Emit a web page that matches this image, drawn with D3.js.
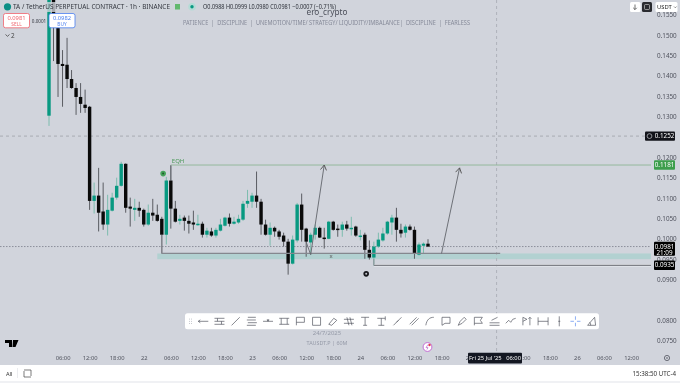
<!DOCTYPE html>
<html>
<head>
<meta charset="utf-8">
<script src="https://cdn.jsdelivr.net/npm/d3@7"></script>
<style>
html, body { margin: 0; padding: 0; background: #d1d4dc; overflow: hidden; }
svg { display: block; font-family: "Noto Sans", sans-serif; filter: blur(0.3px); }
.tick text { font-family: "Noto Sans", sans-serif; }
</style>
</head>
<body>
<script>
// one candle per hour, first one is Jul 21 03:00
var opens = [.1302,.1600,.1517,.1429,.1427,.1392,.1370,.1348,.1329,
  .1324,.1093,.1106,.1067,.1035,.1069,.1101,.1130,.1184,.1079,.1071,.1076,.1071,.1035,.1064,.1059,.1049,.1010,.1143,.1074,
  .1044,.1052,.1044,.1040,.1035,.1037,.1010,.1018,.1008,.1020,.1032,.1052,.1037,.1040,.1047,.1086,.1091,.1106,.1091,.1035,
  .1010,.1027,.1018,.1008,.0993,.0939,.0996,.1084,.1025,.0991,.1010,.1027,.1003,.1000,.1042,.1025,.1022,.1035,.1025,.1030,
  .1005,.1010,.0973,.0954,.0981,.0996,.1013,.1040,.1052,.1022,.1015,.1030,.1022,.0961,.0983,.0988];
var closes = [.1600,.1552,.1429,.1424,.1392,.1370,.1348,.1331,.1321,
  .1093,.1106,.1064,.1035,.1071,.1101,.1130,.1184,.1076,.1074,.1076,.1069,.1035,.1064,.1057,.1044,.1010,.1143,.1074,.1042,
  .1049,.1044,.1037,.1035,.1037,.1010,.1020,.1008,.1022,.1035,.1052,.1037,.1042,.1049,.1086,.1093,.1106,.1091,.1035,.1010,
  .1027,.1018,.1005,.0993,.0939,.0998,.1084,.1022,.0993,.1010,.1027,.1003,.1000,.1042,.1022,.1022,.1035,.1025,.1027,.1008,
  .1008,.0973,.0954,.0981,.0998,.1013,.1042,.1052,.1022,.1013,.1030,.1022,.0964,.0986,.0988,.0981];
var highs = [.1620,.1620,.1552,.1463,.1493,.1414,.1382,.1382,.1366,
  .1326,.1138,.1174,.1138,.1108,.1113,.1150,.1189,.1185,.1101,.1098,.1091,.1074,.1084,.1098,.1084,.1054,.1152,.1179,.1093,
  .1059,.1057,.1057,.1069,.1059,.1042,.1027,.1027,.1027,.1049,.1054,.1062,.1054,.1059,.1093,.1120,.1113,.1165,.1098,.1047,
  .1040,.1030,.1022,.1015,.1000,.1008,.1088,.1111,.1027,.1015,.1035,.1030,.1027,.1044,.1044,.1035,.1042,.1044,.1054,.1032,
  .1022,.1015,.0996,.0993,.1015,.1027,.1044,.1059,.1076,.1037,.1035,.1035,.1030,.0991,.0991,.0999];
var lows = [.1277,.1436,.1348,.1324,.1370,.1368,.1304,.1309,.1309,
  .1071,.1062,.1018,.1022,.1008,.1067,.1096,.1128,.1064,.1030,.1044,.1054,.1030,.1032,.1044,.1042,.0964,.0986,.1025,.1040,
  .1035,.1020,.1013,.1022,.1032,.1003,.1003,.1005,.1003,.1018,.1030,.1030,.1035,.1037,.1044,.1076,.1076,.1076,.1010,.1008,
  .0983,.1005,.0998,.0981,.0912,.0937,.0991,.0993,.0956,.0961,.0998,.1002,.0976,.0999,.1020,.1005,.1005,.1020,.1008,.1005,
  .0996,.0951,.0949,.0934,.0978,.0993,.1010,.1010,.0993,.1003,.1003,.1020,.0951,.0959,.0964,.0980];

var priceTicks = [.155,.15,.145,.14,.135,.13,.12,.115,.11,.105,.10,.095,.09,.08,.075];
// Jul 25 06:00 is left out, the crosshair tag sits right over it
var timeTickIndex = [3,9,15,21,27,33,39,45,51,57,63,69,75,81,87,93,105,111,117,123,129];
var timeTickLabels = ["06:00","12:00","18:00","22","06:00","12:00","18:00","23","06:00","12:00","18:00","24","06:00","12:00","18:00","25","12:00","18:00","26","06:00","12:00"];

var lastPrice = 0.0981, eqhPrice = 0.1181, alertPrice = 0.1252, lowLevel = 0.0935;
var zoneTop = 0.0964, zoneBottom = 0.0950;
var crosshairIndex = 99.2;
var arrowA = [[57,.0992],[58,.0961],[61,.1181]];
var arrowB = [[87,.0964],[91,.1174]];

var W = 680, H = 383, plotR = 651, plotB = 365;
var x = d3.scaleLinear().domain([0, 84]).range([49, 428]);
var y = d3.scaleLinear().domain([.15, .075]).range([35, 340.7]);
var GREEN = "#089981", WICK_G = "#7cbcae", BLACK = "#0a0a0a", WICK_B = "#5a5c62";

var svg = d3.select("body").append("svg").attr("width", W).attr("height", H);
svg.append("rect").attr("width", W).attr("height", H).attr("fill", "#d1d4dc");

var defs = svg.append("defs");
defs.append("clipPath").attr("id", "plot").append("rect").attr("width", plotR).attr("height", plotB);
var mk = defs.append("marker").attr("id", "head").attr("markerWidth", 8).attr("markerHeight", 8)
    .attr("refX", 6).attr("refY", 3.5).attr("orient", "auto").attr("markerUnits", "userSpaceOnUse");
mk.append("path").attr("d", "M1,0.5L6,3.5L1,6.5").attr("fill", "none").attr("stroke", "#555").attr("stroke-width", 0.9);

var plot = svg.append("g").attr("clip-path", "url(#plot)");

// zone and levels sit under the candles
plot.append("rect").attr("x", x(24)).attr("y", y(zoneTop)).attr("width", plotR - x(24))
    .attr("height", y(zoneBottom) - y(zoneTop)).attr("fill", "#b2d1d1");

function hLine(p, x0, x1, col, w, dash) {
    plot.append("line").attr("x1", x0).attr("x2", x1).attr("y1", y(p)).attr("y2", y(p))
        .attr("stroke", col).attr("stroke-width", w).attr("stroke-dasharray", dash || null);
}
hLine(alertPrice, 0, plotR, "#9ea1aa", 0.8, "3 3");
hLine(lastPrice, 0, plotR, "#7c7f8b", 0.8, "1.5 1.5");
plot.append("line").attr("x1", x(crosshairIndex)).attr("x2", x(crosshairIndex)).attr("y1", 0).attr("y2", plotB)
    .attr("stroke", "#aeb1ba").attr("stroke-width", 1).attr("stroke-dasharray", "3 3");

// candles
var idx = d3.range(opens.length);
plot.selectAll("line.wick").data(idx).enter().append("line").attr("class", "wick")
    .attr("x1", i => x(i)).attr("x2", i => x(i))
    .attr("y1", i => y(highs[i])).attr("y2", i => y(lows[i]))
    .attr("stroke", i => closes[i] >= opens[i] ? WICK_G : WICK_B).attr("stroke-width", 1);
plot.selectAll("rect.body").data(idx).enter().append("rect").attr("class", "body")
    .attr("x", i => x(i) - 1.7).attr("width", 3.4)
    .attr("y", i => y(Math.max(opens[i], closes[i])))
    .attr("height", i => Math.max(1.5, Math.abs(y(opens[i]) - y(closes[i]))))
    .attr("fill", i => closes[i] >= opens[i] ? GREEN : BLACK);

// drawings
hLine(eqhPrice, x(27), plotR, "#8db495", 0.9);
plot.append("line").attr("x1", x(27)).attr("x2", x(27)).attr("y1", y(eqhPrice)).attr("y2", y(.1143))
    .attr("stroke", "#6d7078").attr("stroke-width", 1);
plot.append("text").attr("x", x(27) + 1).attr("y", y(eqhPrice) - 2).attr("font-size", 6).attr("fill", "#4d9a5b").text("EQH");

hLine(zoneTop, x(25), x(100), "#85888f", 1.2);
plot.append("line").attr("x1", x(25)).attr("x2", x(25)).attr("y1", y(.1010)).attr("y2", y(zoneTop))
    .attr("stroke", "#85888f").attr("stroke-width", 1);
plot.append("text").attr("x", x(62.5)).attr("y", y(zoneBottom) - 1).attr("text-anchor", "middle")
    .attr("font-size", 6).attr("fill", "#555").text("x");

hLine(lowLevel, x(72), plotR, "#eef0f4", 2.2);
hLine(lowLevel, x(72), plotR, "#5f6269", 1);
plot.append("line").attr("x1", x(72)).attr("x2", x(72)).attr("y1", y(zoneBottom)).attr("y2", y(lowLevel))
    .attr("stroke", "#8a8d94").attr("stroke-width", 1);

var arrowLine = d3.line().x(d => x(d[0])).y(d => y(d[1]));
[arrowA, arrowB].forEach(a => {
    plot.append("path").attr("d", arrowLine(a)).attr("fill", "none").attr("stroke", "#62656c")
        .attr("stroke-width", 0.9).attr("marker-end", "url(#head)");
});

plot.append("circle").attr("cx", x(25.3)).attr("cy", y(.1160)).attr("r", 2.8).attr("fill", "#46a35a");
plot.append("circle").attr("cx", x(25.3)).attr("cy", y(.1160)).attr("r", 1).attr("fill", "#1f5c2c");
plot.append("circle").attr("cx", x(70.3)).attr("cy", y(.0914)).attr("r", 2.8).attr("fill", "#16171b");
plot.append("circle").attr("cx", x(70.3)).attr("cy", y(.0914)).attr("r", 1).attr("fill", "#c4c6cc");

// axes
var yAxis = d3.axisRight(y).tickValues(priceTicks).tickFormat(d3.format(".4f")).tickSize(0).tickPadding(0);
var gy = svg.append("g").attr("transform", "translate(657,0)").call(yAxis);
gy.select(".domain").remove();
gy.selectAll("text").attr("font-size", 6.3).attr("fill", "#50535e");

var xAxis = d3.axisBottom(x).tickValues(timeTickIndex).tickFormat((d, i) => timeTickLabels[i]).tickSize(0).tickPadding(0);
var gx = svg.append("g").attr("transform", "translate(0,355.5)").call(xAxis);
gx.select(".domain").remove();
gx.selectAll("text").attr("font-size", 5.8).attr("fill", "#50535e");

// price tags on the axis
function tag(p, txt, col, x0, h) {
    var yy = y(p);
    svg.append("rect").attr("x", x0).attr("y", yy - 4.7).attr("width", 675 - x0).attr("height", h || 9.4)
        .attr("rx", 1).attr("fill", col);
    svg.append("text").attr("x", 664.5).attr("y", yy + 2.2).attr("text-anchor", "middle")
        .attr("font-size", 6.3).attr("fill", "#fff").text(txt);
}
tag(alertPrice, "0.1252", "#12131a", 645);
tag(eqhPrice, "0.1181", "#3d9e4c", 654);
tag(lastPrice, "0.0981", "#000", 654, 14);
svg.append("text").attr("x", 664.5).attr("y", y(lastPrice) + 8.6).attr("text-anchor", "middle")
    .attr("font-size", 6.3).attr("fill", "#fff").text("21:09");
tag(lowLevel, "0.0935", "#000", 654);
svg.append("circle").attr("cx", 649.5).attr("cy", y(alertPrice)).attr("r", 2.4).attr("fill", "none").attr("stroke", "#c8cad0").attr("stroke-width", 0.7);

// crosshair date tag
svg.append("rect").attr("x", 468).attr("y", 352.7).attr("width", 54).attr("height", 10.8).attr("rx", 1).attr("fill", "#131722");
svg.append("text").attr("x", 495).attr("y", 360.2).attr("text-anchor", "middle").attr("font-size", 5.8)
    .attr("fill", "#fff").attr("xml:space", "preserve").text("Fri 25 Jul '25   06:00");

// legend / header
function txt(xp, yp, s, size, col, anchor, len) {
    var t = svg.append("text").attr("x", xp).attr("y", yp).attr("font-size", size).attr("fill", col)
        .attr("text-anchor", anchor || "start").text(s);
    if (len) t.attr("textLength", len).attr("lengthAdjust", "spacingAndGlyphs");
    return t;
}
// legend has a see-through backing, candles fade behind it
svg.append("rect").attr("x", 2).attr("y", 2).attr("width", 336).attr("height", 10).attr("fill", "#d1d4dc").attr("opacity", 0.8);
svg.append("circle").attr("cx", 7.5).attr("cy", 6.8).attr("r", 3.6).attr("fill", "#0c8f86");
txt(13, 9.4, "TA / TetherUS PERPETUAL CONTRACT · 1h · BINANCE", 7.2, "#33363f", "start", 157);
svg.append("rect").attr("x", 175).attr("y", 4).attr("width", 5).attr("height", 5.5).attr("fill", "#63b96f");
svg.append("circle").attr("cx", 192).attr("cy", 6.8).attr("r", 3.8).attr("fill", "#b4dcd6");
svg.append("circle").attr("cx", 192).attr("cy", 6.8).attr("r", 1.7).attr("fill", "#089981");
txt(203, 9.4, "O0.0988 H0.0999 L0.0980 C0.0981 −0.0007 (−0.71%)", 6.2, "#2c2f38", "start", 133);
txt(306.5, 15, "ero_crypto", 8.2, "#4c4f5a", "start", 41);
txt(183, 25.3, "PATIENCE  |  DISCIPLINE  |  UNEMOTION/TIME/ STRATEGY/ LIQUIDITY/IMBALANCE|  DISCIPLINE  |  FEARLESS", 6.2, "#868a99", "start", 287).attr("xml:space", "preserve");

function tradeBtn(x0, w, col, price, label) {
    svg.append("rect").attr("x", x0).attr("y", 13.5).attr("width", w).attr("height", 14.3).attr("rx", 2)
        .attr("fill", "#fff").attr("stroke", col).attr("stroke-width", 0.8);
    txt(x0 + w / 2, 20.4, price, 5.8, col, "middle");
    txt(x0 + w / 2, 26.4, label, 4.8, col, "middle");
}
tradeBtn(3.5, 26, "#f0626c", "0.0981", "SELL");
tradeBtn(49, 26, "#4a7ff0", "0.0982", "BUY");
txt(39, 23, "0.0001", 4.6, "#33363f", "middle");
svg.append("path").attr("d", "M5.5,34.5L7.5,36.3L9.5,34.5").attr("fill", "none").attr("stroke", "#444").attr("stroke-width", 0.8);
txt(11, 38, "2", 6.4, "#444");

// top right buttons
svg.append("rect").attr("x", 630).attr("y", 2).attr("width", 10.5).attr("height", 10).attr("rx", 1.5).attr("fill", "#fff");
svg.append("path").attr("d", "M635,4.5V9.5M633.2,7.8L635,9.6L636.8,7.8").attr("fill", "none").attr("stroke", "#333").attr("stroke-width", 0.7);
svg.append("rect").attr("x", 642).attr("y", 2).attr("width", 10).attr("height", 10).attr("rx", 1.5).attr("fill", "#2a2b30");
svg.append("rect").attr("x", 644.5).attr("y", 4.5).attr("width", 5).attr("height", 5).attr("rx", 1).attr("fill", "none").attr("stroke", "#ddd").attr("stroke-width", 0.6);
svg.append("rect").attr("x", 655.5).attr("y", 2).attr("width", 22).attr("height", 10).attr("rx", 1.5).attr("fill", "#fff");
txt(657, 9.3, "USDT", 5.8, "#222");
svg.append("path").attr("d", "M674,6.5L675.3,7.8L676.6,6.5").attr("fill", "none").attr("stroke", "#444").attr("stroke-width", 0.6);

// watermark
txt(327, 335.3, "24/7/2025", 6, "#959aa8", "middle");
txt(327, 345, "TAUSDT.P | 60M", 5.4, "#959aa8", "middle");

// TV logo
svg.append("path").attr("d", "M5,340H12V347H9V343H5ZM13,340H18.5L15.5,347H12.5Z").attr("fill", "#000");

// drawing toolbar
svg.append("rect").attr("x", 185).attr("y", 313.3).attr("width", 414).attr("height", 16).attr("rx", 2.5).attr("fill", "#fff");
d3.range(3).forEach(r => [189.5, 191.5].forEach(gx0 =>
    svg.append("circle").attr("cx", gx0).attr("cy", 319 + r * 2.2).attr("r", 0.5).attr("fill", "#b5b8c0")));
var iconPaths = [
    "M-5,0H5M-5,0L-3,-1.5M-5,0L-3,1.5",
    "M-5,-3H5M-5,0H5M-5,3H5M-2,-3V0M2,0V3",
    "M-4,4L4,-4M-4,4h.1M4,-4h.1",
    "M-4,-4H4M-5,-1.3H4M-4,1.4H5M-5,4H4",
    "M-5,0H5M-1,-1.5L1,-1.5L0,0Z",
    "M-5,-3H5M-5,3H5M-3,-3V3M3,-3V3",
    "M-4,4V-4H4V1H-4",
    "M-4,-4H4V4H-4Z",
    "M-4,3L1,-3L4,-1L-1,4Z",
    "M-5,-2H5M-5,2H5M-2,-4L0,4M1,-4L3,4",
    "M-4,-4H4M0,-4V4M-2,4H2",
    "M-4,-3H4M0,-3V4M-3,4H3M4,-5V-1",
    "M-4,4L4,-4M-1,1L1,-1",
    "M-4,3L3,-4M-2,4L5,-3",
    "M-4,4C-3,-2,0,-4,4,-4",
    "M-4,-4H4V2H-1L-4,4Z",
    "M-4,4L-2,0L2,-4L4,-2L0,2Z",
    "M-4,4V-4H4L2,-1L4,2H-4",
    "M-5,4H5M-5,1.5H5M-3,-1L3,-4M-3,-1V-1",
    "M-5,2L-2,-1L0,1L2,-2L5,-3",
    "M-4,4V-4L0,-2L-4,0M3,4V-4M1.5,-2.5L3,-4L4.5,-2.5",
    "M-5,-4V4M5,-4V4M-5,0H5",
    "M0,-5V5M-1,0H1",
    "M-5,0H-1.5M1.5,0H5M0,-5V-1.5M0,1.5V5",
    "M-4,4H4L3,-4ZM-1,4A3,3,0,0,0,-2,1"
];
iconPaths.forEach((d, i) => {
    svg.append("path").attr("transform", `translate(${203.3 + i * 16.18},321.3)`).attr("d", d)
        .attr("fill", "none").attr("stroke", i == 23 ? "#5b8def" : "#555862").attr("stroke-width", 0.7);
});

// purple badge
svg.append("circle").attr("cx", 427.5).attr("cy", 347).attr("r", 4.4).attr("fill", "#fff").attr("stroke", "#c05ed1").attr("stroke-width", 0.9);
svg.append("circle").attr("cx", 429.5).attr("cy", 345).attr("r", 1.2).attr("fill", "#e33b4f");
svg.append("path").attr("d", "M428,344.5L426,347.6H428L427,349.5").attr("fill", "none").attr("stroke", "#b04cc4").attr("stroke-width", 0.6);

// gear at axis corner
svg.append("circle").attr("cx", 667).attr("cy", 358).attr("r", 2.6).attr("fill", "none").attr("stroke", "#50535e").attr("stroke-width", 0.8);
svg.append("circle").attr("cx", 667).attr("cy", 358).attr("r", 0.8).attr("fill", "#50535e");

// bottom bar
svg.append("rect").attr("y", 365).attr("width", W).attr("height", 16).attr("fill", "#fff");
svg.append("rect").attr("y", 381).attr("width", W).attr("height", 2).attr("fill", "#f0f1f4");
txt(6, 375.5, "All", 5.6, "#333");
svg.append("line").attr("x1", 17.5).attr("x2", 17.5).attr("y1", 368).attr("y2", 378).attr("stroke", "#e3e4e8").attr("stroke-width", 0.7);
svg.append("path").attr("d", "M24,370H31V376M31,377H24V371").attr("fill", "none").attr("stroke", "#444").attr("stroke-width", 0.7);
txt(676, 375.5, "15:38:50 UTC-4", 6.2, "#333", "end");
</script>
</body>
</html>
